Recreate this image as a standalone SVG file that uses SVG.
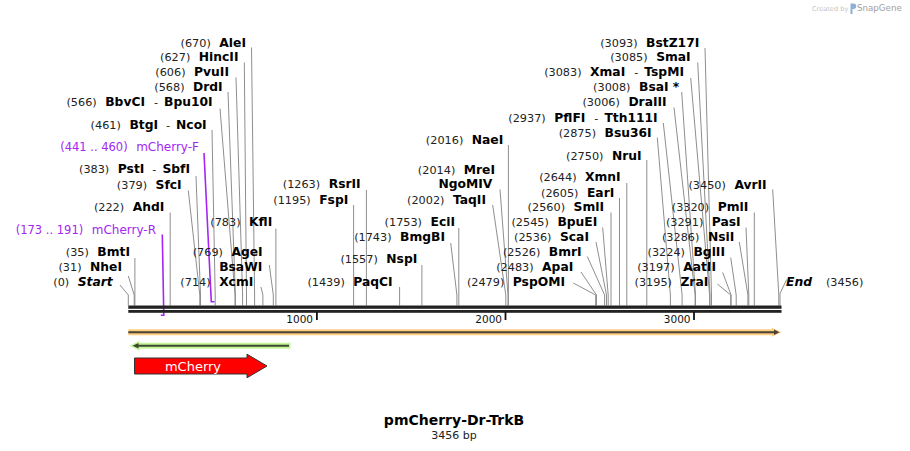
<svg xmlns="http://www.w3.org/2000/svg" width="910" height="451" viewBox="0 0 910 451">
<style>
text{font-family:"DejaVu Sans",Verdana,sans-serif}
.l{text-anchor:end}
.n{font-size:11.25px;fill:#222}
.b{font-size:12.3px;font-weight:bold;fill:#000}
.bi{font-size:12.3px;font-weight:bold;font-style:italic;fill:#000}
.p{font-size:11.5px;fill:#a526f2}
.pn{font-size:12px;fill:#a526f2}
.cn path{fill:none;stroke:#8e8e8e;stroke-width:1}
.cn path.pr{fill:none;stroke:#a526f2;stroke-width:1.6}
.tk{font-size:10.5px;fill:#111;text-anchor:end}
</style>
<rect width="910" height="451" fill="#fff"/>
<g id="logo">
<text x="812" y="10.5" style="font-size:6.6px;fill:#c4c4c4">Created by</text>
<path d="M850.5,3.5 h3 a2.6,2.6 0 0 1 0,5.5 h-1 v5 h-2 z" fill="#8fb0d6"/>
<text x="857" y="11" style="font-size:8.7px;fill:#a0a0a0">SnapGene</text>
</g>
<g id="connectors" class="cn">
<path d="M251.5,47.5 L254.6,295 V305.5"/>
<path d="M244.3,62.5 L246.5,295 V305.5"/>
<path d="M236,77.5 L242.6,295 V305.5"/>
<path d="M228,92 L235.4,295 V305.5"/>
<path d="M220,108.5 L235,295 V305.5"/>
<path d="M212,130 L215.2,295 V305.5"/>
<path d="M196,176 L200.5,295 V305.5"/>
<path d="M188.3,190.5 L199.8,295 V305.5"/>
<path d="M170.2,212.5 V305.5"/>
<path d="M134.9,258 V305.5"/>
<path d="M128.3,276 L134.2,295 V305.5"/>
<path d="M120,285 L128.3,295 V305.5"/>
<path d="M275.9,228.5 V305.5"/>
<path d="M269.3,265 L273.3,295 V305.5"/>
<path d="M261,287 L262.9,295 V305.5"/>
<path d="M366.4,190 V305.5"/>
<path d="M353.6,205 V305.5"/>
<path d="M458.8,228 V305.5"/>
<path d="M450.7,243 L456.9,295 V305.5"/>
<path d="M421.9,265 V305.5"/>
<path d="M399.6,287 V305.5"/>
<path d="M508.4,145 V305.5"/>
<path d="M500,189.5 L508,295 V305.5"/>
<path d="M492.7,205 L505.8,295 V305.5"/>
<path d="M705,48 L711.5,295 V305.5"/>
<path d="M697.7,62.5 L710,295 V305.5"/>
<path d="M690.7,78 L709.6,295 V305.5"/>
<path d="M681.7,92 L695.5,295 V305.5"/>
<path d="M674,107.5 L695.1,295 V305.5"/>
<path d="M663.3,123 L682.1,295 V305.5"/>
<path d="M657.3,137.5 L670.4,295 V305.5"/>
<path d="M646.8,160 V305.5"/>
<path d="M626.8,183 V305.5"/>
<path d="M619.5,198 V305.5"/>
<path d="M611,212.5 V305.5"/>
<path d="M602.7,227.5 L608.2,295 V305.5"/>
<path d="M596,242 L606.5,295 V305.5"/>
<path d="M587.3,256.5 L604.6,295 V305.5"/>
<path d="M581,272 L596.5,295 V305.5"/>
<path d="M573.3,283 L595.7,295 V305.5"/>
<path d="M772.7,189.5 L778.8,295 V305.5"/>
<path d="M754.3,212.5 V305.5"/>
<path d="M746,227.5 L748.8,295 V305.5"/>
<path d="M739.3,242 L747.9,295 V305.5"/>
<path d="M730.7,257.5 L736.2,295 V305.5"/>
<path d="M722.7,272.5 L731.1,295 V305.5"/>
<path d="M717.3,284 L730.7,295 V305.5"/>
<path d="M786.7,279.5 L780,293.5 V305.5"/>
<path class="pr" d="M204,153 L211.3,301.8 H214.5"/>
<path class="pr" d="M162.3,234.5 L163.8,315.2 H160.8"/>
</g>
<g id="backbone">
<rect x="128.3" y="305.5" width="653.2" height="3.3" fill="#222"/>
<rect x="128.3" y="310" width="653.2" height="2.8" fill="#222"/>
<rect x="316" y="312" width="1.8" height="8" fill="#111"/>
<rect x="504.6" y="312" width="1.8" height="8" fill="#111"/>
<rect x="693.1" y="312" width="1.8" height="8" fill="#111"/>
<text class="tk" x="313" y="322.5">1000</text>
<text class="tk" x="502" y="322.5">2000</text>
<text class="tk" x="690.5" y="322.5">3000</text>
</g>
<g id="feature-bar">
<path d="M128.3,332.3 H775" stroke="#fdcd7f" stroke-width="6" fill="none"/>
<polygon points="772,327.8 781.5,332.3 772,336.8" fill="#fdcd7f"/>
<path d="M128.3,332.3 H775" stroke="#4a4232" stroke-width="2" fill="none"/>
<polygon points="774,329.6 779.5,332.3 774,335" fill="#4a4232"/>
</g>
<g id="green-feature">
<path d="M136,345.8 H290.5" stroke="#c6f59b" stroke-width="6" fill="none"/>
<polygon points="129.5,345.8 139.5,340.8 139.5,350.8" fill="#c6f59b"/>
<path d="M137,345.8 H289" stroke="#3c4a30" stroke-width="2" fill="none"/>
<polygon points="132.5,345.8 138.5,343 138.5,348.6" fill="#3c4a30"/>
</g>
<g id="mCherry">
<polygon points="134.5,358 247,358 247,354.2 267,366 247,377.8 247,374 134.5,374" fill="#ff0000" stroke="#333" stroke-width="1"/>
<text x="193" y="371" style="font-size:13px;fill:#fff;text-anchor:middle">mCherry</text>
</g>
<g id="AleI"><text class="l" x="246" y="46.5"><tspan class="n">(670)</tspan><tspan class="b" dx="8.5">AleI</tspan></text></g>
<g id="HincII"><text class="l" x="238.5" y="61"><tspan class="n">(627)</tspan><tspan class="b" dx="8.5">HincII</tspan></text></g>
<g id="PvuII"><text class="l" x="229" y="76"><tspan class="n">(606)</tspan><tspan class="b" dx="8.5">PvuII</tspan></text></g>
<g id="DrdI"><text class="l" x="222.7" y="91"><tspan class="n">(568)</tspan><tspan class="b" dx="8.5">DrdI</tspan></text></g>
<g id="BbvCI"><text class="l" x="212.7" y="106"><tspan class="n">(566)</tspan><tspan class="b" dx="8.5">BbvCI</tspan><tspan class="n" dx="9">-</tspan><tspan class="b" dx="6">Bpu10I</tspan></text></g>
<g id="BtgI"><text class="l" x="206.7" y="128.5"><tspan class="n">(461)</tspan><tspan class="b" dx="8.5">BtgI</tspan><tspan class="n" dx="8">-</tspan><tspan class="b" dx="6">NcoI</tspan></text></g>
<g id="mCherry-F"><text class="l" x="199" y="151"><tspan class="p">(441 .. 460)</tspan><tspan class="pn" dx="8.5">mCherry-F</tspan></text></g>
<g id="PstI"><text class="l" x="190" y="173"><tspan class="n">(383)</tspan><tspan class="b" dx="8.5">PstI</tspan><tspan class="n" dx="8">-</tspan><tspan class="b" dx="6">SbfI</tspan></text></g>
<g id="SfcI"><text class="l" x="181.7" y="188.5"><tspan class="n">(379)</tspan><tspan class="b" dx="8.5">SfcI</tspan></text></g>
<g id="AhdI"><text class="l" x="164.3" y="211"><tspan class="n">(222)</tspan><tspan class="b" dx="8.5">AhdI</tspan></text></g>
<g id="mCherry-R"><text class="l" x="156" y="233.5"><tspan class="p">(173 .. 191)</tspan><tspan class="pn" dx="8.5">mCherry-R</tspan></text></g>
<g id="BmtI"><text class="l" x="130" y="256"><tspan class="n">(35)</tspan><tspan class="b" dx="8.5">BmtI</tspan></text></g>
<g id="NheI"><text class="l" x="122" y="271"><tspan class="n">(31)</tspan><tspan class="b" dx="8.5">NheI</tspan></text></g>
<g id="Start"><text class="l" x="112.7" y="286"><tspan class="n">(0)</tspan><tspan class="bi" dx="8.5">Start</tspan></text></g>
<g id="KflI"><text class="l" x="272.3" y="226"><tspan class="n">(783)</tspan><tspan class="b" dx="8.5">KflI</tspan></text></g>
<g id="AgeI"><text class="l" x="262.7" y="256"><tspan class="n">(769)</tspan><tspan class="b" dx="8.5">AgeI</tspan></text></g>
<g id="BsaWI"><text class="l b" x="262.3" y="271">BsaWI</text></g>
<g id="XcmI"><text class="l" x="253.3" y="286"><tspan class="n">(714)</tspan><tspan class="b" dx="8.5">XcmI</tspan></text></g>
<g id="RsrII"><text class="l" x="360.7" y="188"><tspan class="n">(1263)</tspan><tspan class="b" dx="8.5">RsrII</tspan></text></g>
<g id="FspI"><text class="l" x="348.3" y="203.5"><tspan class="n">(1195)</tspan><tspan class="b" dx="8.5">FspI</tspan></text></g>
<g id="EciI"><text class="l" x="455" y="226"><tspan class="n">(1753)</tspan><tspan class="b" dx="8.5">EciI</tspan></text></g>
<g id="BmgBI"><text class="l" x="445" y="241"><tspan class="n">(1743)</tspan><tspan class="b" dx="8.5">BmgBI</tspan></text></g>
<g id="NspI"><text class="l" x="417.3" y="263"><tspan class="n">(1557)</tspan><tspan class="b" dx="8.5">NspI</tspan></text></g>
<g id="PaqCI"><text class="l" x="392.7" y="286"><tspan class="n">(1439)</tspan><tspan class="b" dx="8.5">PaqCI</tspan></text></g>
<g id="NaeI"><text class="l" x="503.3" y="143.5"><tspan class="n">(2016)</tspan><tspan class="b" dx="8.5">NaeI</tspan></text></g>
<g id="MreI"><text class="l" x="495" y="173.5"><tspan class="n">(2014)</tspan><tspan class="b" dx="8.5">MreI</tspan></text></g>
<g id="NgoMIV"><text class="l b" x="492.3" y="188">NgoMIV</text></g>
<g id="TaqII"><text class="l" x="486" y="203.5"><tspan class="n">(2002)</tspan><tspan class="b" dx="8.5">TaqII</tspan></text></g>
<g id="BstZ17I"><text class="l" x="699.3" y="46.5"><tspan class="n">(3093)</tspan><tspan class="b" dx="8.5">BstZ17I</tspan></text></g>
<g id="SmaI"><text class="l" x="690.7" y="61"><tspan class="n">(3085)</tspan><tspan class="b" dx="8.5">SmaI</tspan></text></g>
<g id="XmaI"><text class="l" x="684" y="76"><tspan class="n">(3083)</tspan><tspan class="b" dx="8.5">XmaI</tspan><tspan class="n" dx="9">-</tspan><tspan class="b" dx="6">TspMI</tspan></text></g>
<g id="BsaI"><text class="l" x="679.3" y="91"><tspan class="n">(3008)</tspan><tspan class="b" dx="8.5">BsaI *</tspan></text></g>
<g id="DraIII"><text class="l" x="666.7" y="106"><tspan class="n">(3006)</tspan><tspan class="b" dx="8.5">DraIII</tspan></text></g>
<g id="PflFI"><text class="l" x="657.7" y="121.5"><tspan class="n">(2937)</tspan><tspan class="b" dx="8.5">PflFI</tspan><tspan class="n" dx="9">-</tspan><tspan class="b" dx="6">Tth111I</tspan></text></g>
<g id="Bsu36I"><text class="l" x="651.7" y="136.5"><tspan class="n">(2875)</tspan><tspan class="b" dx="8.5">Bsu36I</tspan></text></g>
<g id="NruI"><text class="l" x="641.7" y="159.5"><tspan class="n">(2750)</tspan><tspan class="b" dx="8.5">NruI</tspan></text></g>
<g id="XmnI"><text class="l" x="620.7" y="181"><tspan class="n">(2644)</tspan><tspan class="b" dx="8.5">XmnI</tspan></text></g>
<g id="EarI"><text class="l" x="614.3" y="196.5"><tspan class="n">(2605)</tspan><tspan class="b" dx="8.5">EarI</tspan></text></g>
<g id="SmlI"><text class="l" x="604" y="211"><tspan class="n">(2560)</tspan><tspan class="b" dx="8.5">SmlI</tspan></text></g>
<g id="BpuEI"><text class="l" x="597.3" y="226"><tspan class="n">(2545)</tspan><tspan class="b" dx="8.5">BpuEI</tspan></text></g>
<g id="ScaI"><text class="l" x="589" y="241"><tspan class="n">(2536)</tspan><tspan class="b" dx="8.5">ScaI</tspan></text></g>
<g id="BmrI"><text class="l" x="581.7" y="256"><tspan class="n">(2526)</tspan><tspan class="b" dx="8.5">BmrI</tspan></text></g>
<g id="ApaI"><text class="l" x="573.3" y="271"><tspan class="n">(2483)</tspan><tspan class="b" dx="8.5">ApaI</tspan></text></g>
<g id="PspOMI"><text class="l" x="565" y="286"><tspan class="n">(2479)</tspan><tspan class="b" dx="8.5">PspOMI</tspan></text></g>
<g id="AvrII"><text class="l" x="766.7" y="188.5"><tspan class="n">(3450)</tspan><tspan class="b" dx="8.5">AvrII</tspan></text></g>
<g id="PmlI"><text class="l" x="748.3" y="211"><tspan class="n">(3320)</tspan><tspan class="b" dx="8.5">PmlI</tspan></text></g>
<g id="PasI"><text class="l" x="740.7" y="226"><tspan class="n">(3291)</tspan><tspan class="b" dx="8.5">PasI</tspan></text></g>
<g id="NsiI"><text class="l" x="734.3" y="241"><tspan class="n">(3286)</tspan><tspan class="b" dx="8.5">NsiI</tspan></text></g>
<g id="BglII"><text class="l" x="725" y="256"><tspan class="n">(3224)</tspan><tspan class="b" dx="8.5">BglII</tspan></text></g>
<g id="AatII"><text class="l" x="716" y="271"><tspan class="n">(3197)</tspan><tspan class="b" dx="8.5">AatII</tspan></text></g>
<g id="ZraI"><text class="l" x="708.3" y="286"><tspan class="n">(3195)</tspan><tspan class="b" dx="8.5">ZraI</tspan></text></g>
<g id="End"><text x="786" y="286"><tspan class="bi">End</tspan><tspan class="n" dx="14">(3456)</tspan></text></g>
<g id="title">
<text x="454" y="425" style="font-size:14px;font-weight:bold;fill:#000;text-anchor:middle">pmCherry-Dr-TrkB</text>
<text x="454" y="438.5" style="font-size:11px;fill:#222;text-anchor:middle">3456 bp</text>
</g>
</svg>
